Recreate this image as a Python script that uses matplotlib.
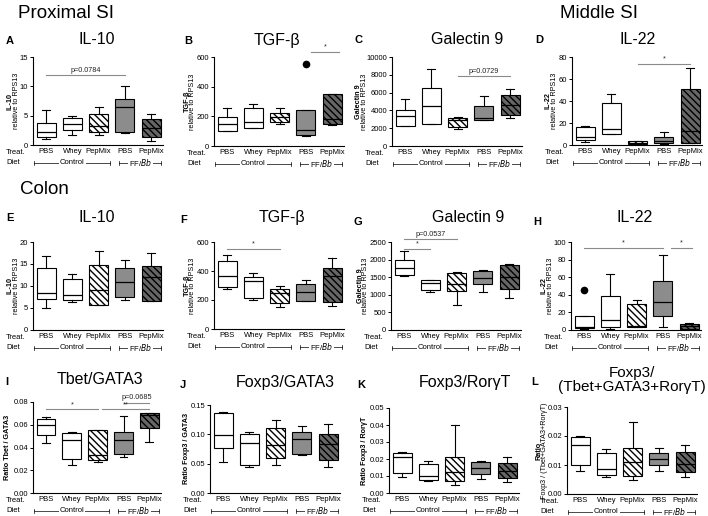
import matplotlib
matplotlib.use("Agg")
import matplotlib.pyplot as plt
from matplotlib.transforms import blended_transform_factory

plt.rcParams['font.family'] = ['Liberation Sans', 'DejaVu Sans']
plt.rcParams['hatch.linewidth'] = 1.0
plt.rcParams['hatch.color'] = 'black'

# ---------------- data ----------------
treatments = ["PBS", "Whey", "PepMix", "PBS", "PepMix"]
diet_groups = ["Control", "FF/$\\mathit{Bb}$"]

# each row: [whisker low, Q1, median, Q3, whisker high]
prox_il10 = [[1.1, 1.3, 2.2, 3.8, 6.0], [1.7, 2.6, 3.6, 4.6, 5.0], [1.7, 2.3, 3.3, 5.3, 6.4],
             [2.1, 2.2, 6.5, 7.8, 10.1], [0.6, 1.4, 2.9, 4.5, 5.2]]
prox_tgfb = [[100, 100, 145, 195, 255], [120, 120, 160, 255, 285], [150, 160, 195, 220, 255],
             [65, 75, 105, 245, 245], [140, 145, 185, 350, 350]]
prox_tgfb_out = [[], [], [], [550], []]
prox_gal9 = [[2200, 2300, 3400, 4100, 5250], [2500, 2500, 4500, 6500, 8600], [1950, 2100, 2900, 3200, 3250],
             [2900, 2950, 3150, 4500, 5600], [3100, 3500, 4600, 5700, 6350]]
mid_il22 = [[2.5, 4.6, 7.7, 16.5, 17.2], [10, 10, 14.4, 38, 46], [0.9, 1.0, 1.5, 3.4, 4.0],
            [1.0, 1.5, 4.0, 7.0, 11.7], [1.5, 1.5, 13, 50.5, 70]]
col_il10 = [[4.9, 7.1, 8.5, 14.1, 16.8], [6.3, 6.8, 7.85, 11.6, 12.8], [5.7, 5.7, 9.2, 14.8, 17.9],
            [6.8, 7.6, 10.9, 14.0, 15.8], [6.6, 6.6, 12.1, 14.6, 17.5]]
col_tgfb = [[274, 292, 368, 470, 509], [201, 217, 333, 361, 388], [151, 178, 250, 279, 299],
            [192, 196, 258, 310, 338], [162, 185, 365, 422, 491]]
col_gal9 = [[1547, 1575, 1774, 1981, 2236], [1085, 1132, 1349, 1415, 1415], [708, 1113, 1300, 1632, 1651],
            [1075, 1321, 1490, 1689, 1717], [896, 1151, 1509, 1840, 1868]]
col_il22 = [[0.8, 1.9, 3.8, 15.8, 15.8], [0.8, 3.8, 11.3, 38.5, 64], [3, 3, 5, 29.4, 34],
            [3.8, 15.8, 31.7, 55.5, 85.7], [1.1, 1.1, 5, 6.4, 8.3]]
col_il22_out = [[46], [], [], [], []]
tbet_gata3 = [[0.044, 0.051, 0.060, 0.065, 0.067], [0.025, 0.030, 0.047, 0.053, 0.054],
              [0.027, 0.029, 0.033, 0.055, 0.055], [0.032, 0.034, 0.047, 0.054, 0.068],
              [0.045, 0.057, 0.069, 0.070, 0.070]]
foxp3_gata3 = [[0.052, 0.077, 0.099, 0.137, 0.138], [0.045, 0.047, 0.085, 0.101, 0.104],
               [0.048, 0.059, 0.082, 0.110, 0.124], [0.065, 0.066, 0.092, 0.104, 0.115],
               [0.045, 0.056, 0.083, 0.100, 0.118]]
foxp3_rorgt = [[0.0097, 0.0115, 0.021, 0.0235, 0.024], [0.0072, 0.0075, 0.010, 0.017, 0.019],
               [0.005, 0.0072, 0.0125, 0.021, 0.040], [0.0085, 0.011, 0.0145, 0.018, 0.019],
               [0.0065, 0.009, 0.013, 0.0178, 0.021]]
foxp3_sum = [[0.008, 0.010, 0.017, 0.0197, 0.020], [0.006, 0.0065, 0.0085, 0.014, 0.0155],
             [0.0047, 0.0063, 0.011, 0.016, 0.025], [0.0078, 0.0099, 0.0121, 0.0143, 0.016],
             [0.0058, 0.0077, 0.0103, 0.0145, 0.017]]

# significance annotations: (from group, to group, height, label)
sig_prox_il10 = [(1, 4, 11.9, "p=0.0784")]
sig_prox_tgfb = [(4.2, 5.25, 634, "*")]
sig_prox_gal9 = [(3, 5, 7890, "p=0.0729")]
sig_mid_il22 = [(3, 5, 74, "*")]
sig_col_tgfb = [(1, 3, 555, "*")]
sig_col_gal9 = [(1, 2, 2310, "*"), (1, 3, 2595, "p=0.0537")]
sig_col_il22 = [(1, 4, 93.6, "*"), (4.3, 5.1, 93.6, "*")]
sig_tbet = [(1, 3, 0.0735, "*"), (3.15, 5, 0.0735, "**"), (4, 5, 0.0795, "p=0.0685")]

# ---------------- layout ----------------
W, H = 708, 516
fig = plt.figure(figsize=(W / 100, H / 100), dpi=100)

face = ['white', 'white', 'white', '#8c8c8c', '#666666']
hatch = [None, None, '\\\\\\\\\\', None, '\\\\\\\\\\']
FS_TICK = 5.5
FS_TITLE = 11.5


def fx(x):
    return x / W


def fy(y):
    return 1 - y / H


def panel(left, top, bottom, letter, lxy, title, txy, data, ymax, yticks, fmt,
          ylab, ylab_x, sigs=(), outliers=None, width=130, title_fs=FS_TITLE):
    ax = fig.add_axes([fx(left), fy(bottom), width / W, (bottom - top) / H])
    stats = []
    for i, row in enumerate(data):
        stats.append(dict(whislo=row[0], q1=row[1], med=row[2], q3=row[3], whishi=row[4],
                          fliers=(outliers[i] if outliers else []), label=treatments[i]))
    pos = list(range(1, len(treatments) + 1))
    bp = ax.bxp(stats, positions=pos, widths=0.72, patch_artist=True, capwidths=0.3,
                boxprops=dict(linewidth=0.8, edgecolor='black'),
                whiskerprops=dict(linewidth=0.8, color='black'),
                capprops=dict(linewidth=0.8, color='black'),
                medianprops=dict(linewidth=0.9, color='black'),
                flierprops=dict(marker='o', markerfacecolor='black', markeredgecolor='black',
                                markersize=4.5))
    for i, b in enumerate(bp['boxes']):
        b.set_facecolor(face[i])
        if hatch[i]:
            b.set_hatch(hatch[i])
    ax.set_xlim(0.5, 5.45)
    ax.set_ylim(0, ymax)
    ax.set_yticks(yticks, [fmt.format(v) for v in yticks])
    ax.set_xticks(pos, treatments)
    ax.tick_params(axis='x', length=0, pad=2.5, labelsize=FS_TICK)
    ax.tick_params(axis='y', length=2.5, width=0.7, pad=1, labelsize=FS_TICK)
    for s in ['top', 'right']:
        ax.spines[s].set_visible(False)
    for s in ['left', 'bottom']:
        ax.spines[s].set_linewidth(0.8)
    # significance
    for (a, b2, y, lab) in sigs:
        ax.plot([a, b2], [y, y], color='#8a8a8a', lw=0.8, clip_on=False)
        ax.text((a + b2) / 2, y + ymax * 0.012, lab, ha='center', va='bottom', fontsize=5.2,
                color='#222222', clip_on=False)
    # letter & title
    fig.text(fx(lxy[0]), fy(lxy[1]), letter, fontsize=8, fontweight='bold', ha='left', va='center')
    fig.text(fx(txy[0]), fy(txy[1]), title, fontsize=title_fs, ha='center', va='center',
             linespacing=1.0)
    # y-label(s)
    if len(ylab) == 2:
        fig.text(fx(left - ylab_x), fy((top + bottom) / 2), ylab[0], rotation=90, fontsize=5.2,
                 fontweight='bold', ha='center', va='center')
        fig.text(fx(left - ylab_x + 6), fy((top + bottom) / 2), ylab[1], rotation=90, fontsize=5.2,
                 ha='center', va='center')
    else:
        fig.text(fx(left - ylab_x), fy((top + bottom) / 2), ylab[0], rotation=90, fontsize=5.2,
                 fontweight='bold', ha='center', va='center')
    # Treat / Diet rows
    fig.text(fx(left - 27), fy(bottom + 7.5), "Treat.", fontsize=FS_TICK, ha='left', va='center')
    fig.text(fx(left - 27), fy(bottom + 17.5), "Diet", fontsize=FS_TICK, ha='left', va='center')
    tr = blended_transform_factory(ax.transData, ax.transAxes)
    hpx = bottom - top
    yd = -17.5 / hpx
    cap = 2.0 / hpx
    for (x0, x1, lab) in [(0.55, 3.45, diet_groups[0]), (3.78, 5.38, diet_groups[1])]:
        ax.plot([x0, x1], [yd, yd], transform=tr, color='black', lw=0.5, clip_on=False)
        for xx in (x0, x1):
            ax.plot([xx, xx], [yd - cap, yd + cap], transform=tr, color='black', lw=0.5,
                    clip_on=False)
        ax.text((x0 + x1) / 2, yd, lab, transform=tr, ha='center', va='center', fontsize=FS_TICK,
                bbox=dict(facecolor='white', edgecolor='none', pad=0.6), clip_on=False)
    return ax


rel = "relative to RPS13"
# Row 1
panel(33, 57, 145, 'A', (6, 41), 'IL-10', (97, 40), prox_il10, 15, [0, 5, 10, 15], '{:g}',
      ('IL-10', rel), 23, sig_prox_il10)
panel(214, 57, 146, 'B', (184, 41), 'TGF-β', (277, 40), prox_tgfb, 600, [0, 200, 400, 600], '{:g}',
      ('TGF-β', rel), 27, sig_prox_tgfb, outliers=prox_tgfb_out)
panel(392, 57, 146, 'C', (355, 40), 'Galectin 9', (467, 40), prox_gal9, 10000,
      [0, 2000, 4000, 6000, 8000, 10000], '{:g}', ('Galectin 9', rel), 33, sig_prox_gal9)
panel(572, 57, 145, 'D', (535, 40), 'IL-22', (638, 40), mid_il22, 80, [0, 20, 40, 60, 80], '{:g}',
      ('IL-22', rel), 24, sig_mid_il22)
# Row 2
panel(33, 242, 330, 'E', (6, 218), 'IL-10', (97, 217), col_il10, 20, [0, 5, 10, 15, 20], '{:g}',
      ('IL-10', rel), 23)
panel(214, 242, 329, 'F', (180, 220), 'TGF-β', (282, 217), col_tgfb, 600, [0, 200, 400, 600], '{:g}',
      ('TGF-β', rel), 27, sig_col_tgfb)
panel(391, 242, 330, 'G', (353, 222), 'Galectin 9', (468, 218), col_gal9, 2500,
      [0, 500, 1000, 1500, 2000, 2500], '{:g}', ('Galectin 9', rel), 31, sig_col_gal9)
panel(571, 242, 330, 'H', (533, 222), 'IL-22', (635, 218), col_il22, 100, [0, 20, 40, 60, 80, 100],
      '{:g}', ('IL-22', rel), 27, sig_col_il22, outliers=col_il22_out)
# Row 3
panel(33, 402, 493, 'I', (5, 382), 'Tbet/GATA3', (100, 380), tbet_gata3, 0.08,
      [0, 0.02, 0.04, 0.06, 0.08], '{:.2f}', ('Ratio Tbet / GATA3',), 25, sig_tbet, width=128)
panel(210, 405, 493, 'J', (180, 385), 'Foxp3/GATA3', (285, 382), foxp3_gata3, 0.15,
      [0, 0.05, 0.10, 0.15], '{:.2f}', ('Ratio Foxp3 / GATA3',), 24)
panel(389, 408, 493, 'K', (357, 385), 'Foxp3/RorγT', (465, 382), foxp3_rorgt, 0.05,
      [0, 0.01, 0.02, 0.03, 0.04, 0.05], '{:.2f}', ('Ratio Foxp3 / RorγT',), 24)
panel(567, 407, 494, 'L', (531, 382), 'Foxp3/\n(Tbet+GATA3+RorγT)', (632, 380), foxp3_sum, 0.03,
      [0, 0.01, 0.02, 0.03], '{:.2f}', ('Ratio', 'Foxp3 / (Tbet+GATA3+RorγT)'), 28, title_fs=11)

# Section titles
fig.text(fx(18), fy(13), "Proximal SI", fontsize=13.5, ha='left', va='center')
fig.text(fx(560), fy(13), "Middle SI", fontsize=13.5, ha='left', va='center')
fig.text(fx(20), fy(190), "Colon", fontsize=13.5, ha='left', va='center')

fig.savefig("out.png", dpi=100)
